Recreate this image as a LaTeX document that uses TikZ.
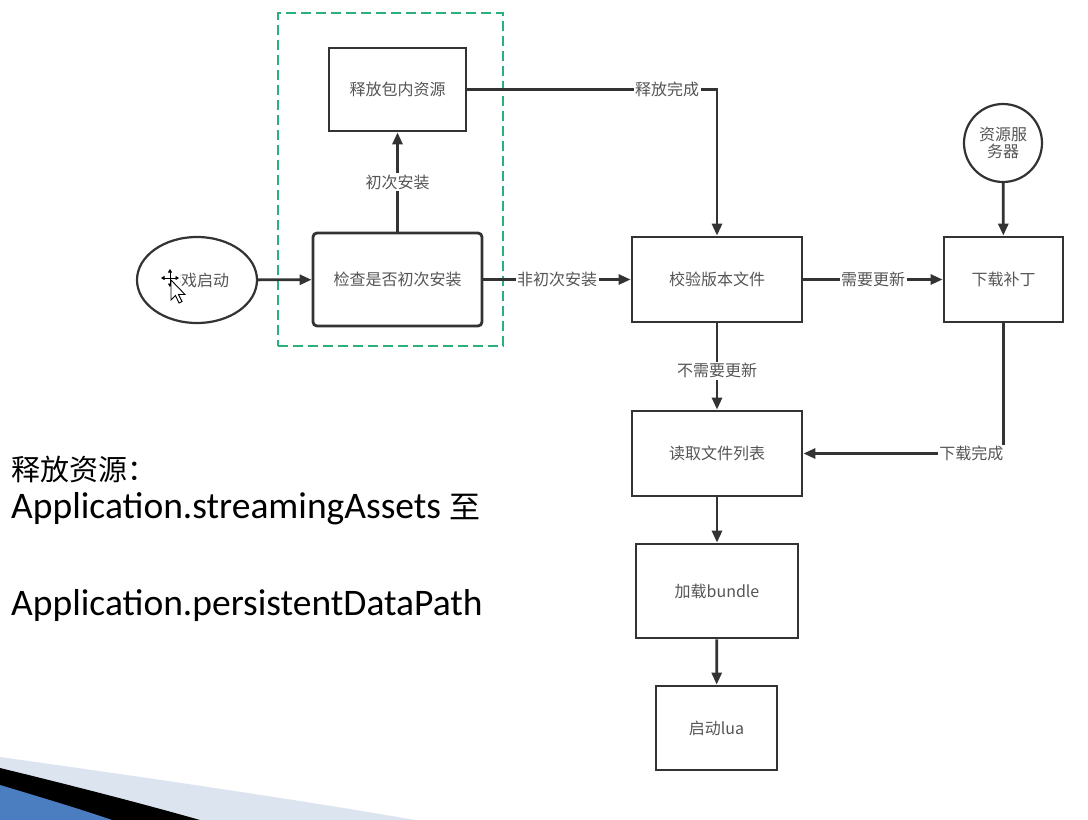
\documentclass[tikz,border=0pt]{standalone}
\usepackage{fontspec}
\setmainfont{Noto Sans CJK SC}
\newfontfamily\latinfont{Carlito}
\usetikzlibrary{arrows.meta,shapes.geometric}
\definecolor{linegray}{HTML}{333333}
\definecolor{textgray}{HTML}{555555}
\definecolor{dashgreen}{HTML}{2BB07C}
\definecolor{bandlight}{HTML}{DCE4EF}
\definecolor{bandblue}{HTML}{4A7EC0}
\begin{document}
\begin{tikzpicture}[x=1pt,y=-1pt,
  proc/.style={draw=linegray, line width=2.8pt, fill=white, text=textgray,
    font=\fontsize{16}{19}\selectfont, inner sep=0pt},
  conn/.style={draw=linegray, line width=2.8pt,
    -{Triangle[length=12pt,width=10pt]}},
  lbl/.style={fill=white, text=textgray, inner sep=1.5pt,
    font=\fontsize{16}{19}\selectfont},
  bigtext/.style={anchor=base west, text=black, inner sep=0pt}]

\useasboundingbox (0,0) rectangle (1088,820);
\fill[white] (0,0) rectangle (1088,820);

% install-check group
\node[draw=dashgreen, line width=2.6pt, dash pattern=on 10pt off 5pt,
  minimum width=225pt, minimum height=333pt, inner sep=0pt] (group) at (390.5,179.5) {};

% process steps
\node[proc, minimum width=137pt, minimum height=83pt] (release) at (397.5,89.5) {释放包内资源};
\node[proc, rounded corners=4pt, minimum width=169pt, minimum height=93pt] (check) at (397.5,279.5) {检查是否初次安装};
\node[proc, ellipse, line width=2.2pt, minimum width=120pt, minimum height=86pt] (start) at (197,280) {游戏启动};
\node[proc, minimum width=170pt, minimum height=85pt] (verify) at (717,279.5) {校验版本文件};
\node[proc, minimum width=119pt, minimum height=85pt] (patch) at (1003.5,279.5) {下载补丁};
\node[proc, circle, line width=2.2pt, minimum size=78pt, align=center,
  font=\fontsize{16}{17}\selectfont] (server) at (1003,143) {资源服\\务器};
\node[proc, minimum width=170pt, minimum height=85pt] (readlist) at (717,453.5) {读取文件列表};
\node[proc, minimum width=162pt, minimum height=94pt] (bundle) at (717,591) {加载bundle};
\node[proc, minimum width=121pt, minimum height=84pt] (lua) at (716.5,728) {启动lua};

% connectors
\draw[conn] (start) -- (check);
\draw[conn] (check) -- node[lbl]{初次安装} (release);
\draw[conn] (release.east) -| node[lbl, pos=0.4]{释放完成} (verify.north);
\draw[conn] (check) -- node[lbl]{非初次安装} (verify);
\draw[conn] (verify) -- node[lbl]{需要更新} (patch);
\draw[conn] (server) -- (patch);
\draw[conn] (verify) -- node[lbl, pos=0.55]{不需要更新} (readlist);
\draw[conn] (patch.south) |- node[lbl, pos=0.58]{下载完成} (readlist.east);
\draw[conn] (readlist) -- (bundle);
\draw[conn] (bundle) -- (lua);

% mouse pointer over the start node
\fill[white] (165,270) rectangle (180,287);
\begin{scope}[shift={(170,278)}]
  \foreach \dx/\dy in {-9/0, 9/0, 0/-9, 0/9}
    \draw[white, line width=3pt] (0,0) -- (\dx,\dy);
  \foreach \dx/\dy in {-9/0, 9/0, 0/-9, 0/9}
    \draw[black, line width=1pt, -{Triangle[length=3.5pt,width=4pt]}] (0,0) -- (\dx,\dy);
\end{scope}
\draw[fill=white, draw=black, line width=0.9pt, shift={(171,280)}]
  (0,0) -- (0,20) -- (4.5,15.5) -- (8,23) -- (11,21.5) -- (7.5,14.5) -- (14,14.5) -- cycle;

% notes on the left
\node[bigtext, font=\fontsize{29}{34}\selectfont] (note1) at (11,480) {释放资源：};
\node[bigtext, font=\fontsize{37.5}{42}\selectfont] (note2) at (11,518)
  {{\latinfont Application.streamingAssets} \fontsize{31}{36}\selectfont 至};
\node[bigtext, font=\fontsize{37.5}{42}\selectfont] (note3) at (11,615)
  {\latinfont Application.persistentDataPath};

% slide decoration in the lower left corner
\fill[bandlight] (0,757) .. controls (150,778) and (300,800) .. (415,820) -- (0,820) -- cycle;
\fill[black] (0,768) .. controls (70,785) and (140,803) .. (200,820) -- (0,820) -- cycle;
\fill[bandblue] (0,785) .. controls (40,797) and (80,809) .. (112,820) -- (0,820) -- cycle;
\end{tikzpicture}
\end{document}
